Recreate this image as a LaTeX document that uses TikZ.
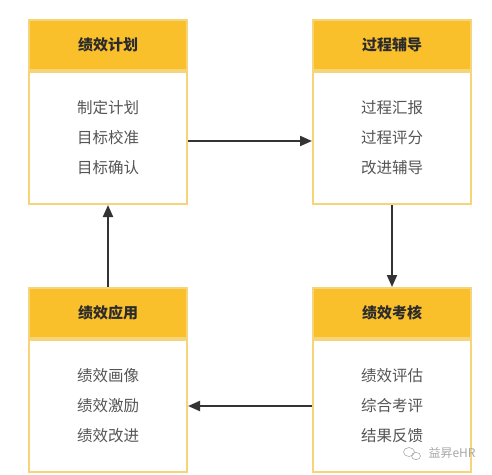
\documentclass[tikz,border=0pt]{standalone}
\usepackage{fontspec}
\newfontfamily\cjk{Noto Sans CJK SC}
\usepackage{xcolor}
\definecolor{cHead}{HTML}{F9C02C}
\definecolor{cBorder}{HTML}{F5D47A}
\definecolor{cTitle}{HTML}{2B2B2B}
\definecolor{cText}{HTML}{555555}
\definecolor{cLine}{HTML}{333333}
\definecolor{cMark}{HTML}{A8A8A8}
\usetikzlibrary{positioning,arrows.meta}
\tikzset{
  box-head/.style={draw=cBorder,line width=2pt,fill=cHead,
    minimum width=158pt,minimum height=50pt,inner sep=0pt,
    font=\cjk\bfseries\fontsize{15}{18}\selectfont,text=cTitle},
  box-body/.style={draw=cBorder,line width=2pt,fill=white,
    minimum width=158pt,minimum height=132pt,inner sep=0pt,align=center,
    font=\cjk\fontsize{15.5}{30}\selectfont,text=cText},
  arrow/.style={-{Triangle[length=12pt,width=10pt]},line width=2pt,draw=cLine},
}

\begin{document}
\begin{tikzpicture}[x=1pt,y=-1pt,node distance=124pt]
  \useasboundingbox (0,0) rectangle (492,474);
  % 四个环节
  \node[box-head] (plan) at (108,45) {绩效计划};
  \node[box-body,below=0pt of plan] (plan-body) {制定计划\\目标校准\\目标确认};
  \node[box-head,right=of plan] (coach) {过程辅导};
  \node[box-body,below=0pt of coach] (coach-body) {过程汇报\\过程评分\\改进辅导};
  \node[box-head,below=82pt of coach-body] (check) {绩效考核};
  \node[box-body,below=0pt of check] (check-body) {绩效评估\\综合考评\\结果反馈};
  \node[box-head,below=82pt of plan-body] (apply) {绩效应用};
  \node[box-body,below=0pt of apply] (apply-body) {绩效画像\\绩效激励\\绩效改进};

  \draw[arrow] ([yshift=-3pt]plan-body.east) -- ([yshift=-3pt]coach-body.west);
  \draw[arrow] (coach-body.south) -- (check.north);
  \draw[arrow] (check-body.west) -- (apply-body.east);
  \draw[arrow] (apply.north) -- (plan-body.south);

  % 水印
  \node[font=\cjk\fontsize{12}{14}\selectfont,text=cMark] (mark) at (452,453) {益昇eHR};
  \draw[cMark,line width=0.6pt] (409,452) ellipse (5.5pt and 4.5pt);
  \draw[cMark,line width=0.6pt] (416,456) ellipse (4.5pt and 3.6pt);
\end{tikzpicture}
\end{document}
